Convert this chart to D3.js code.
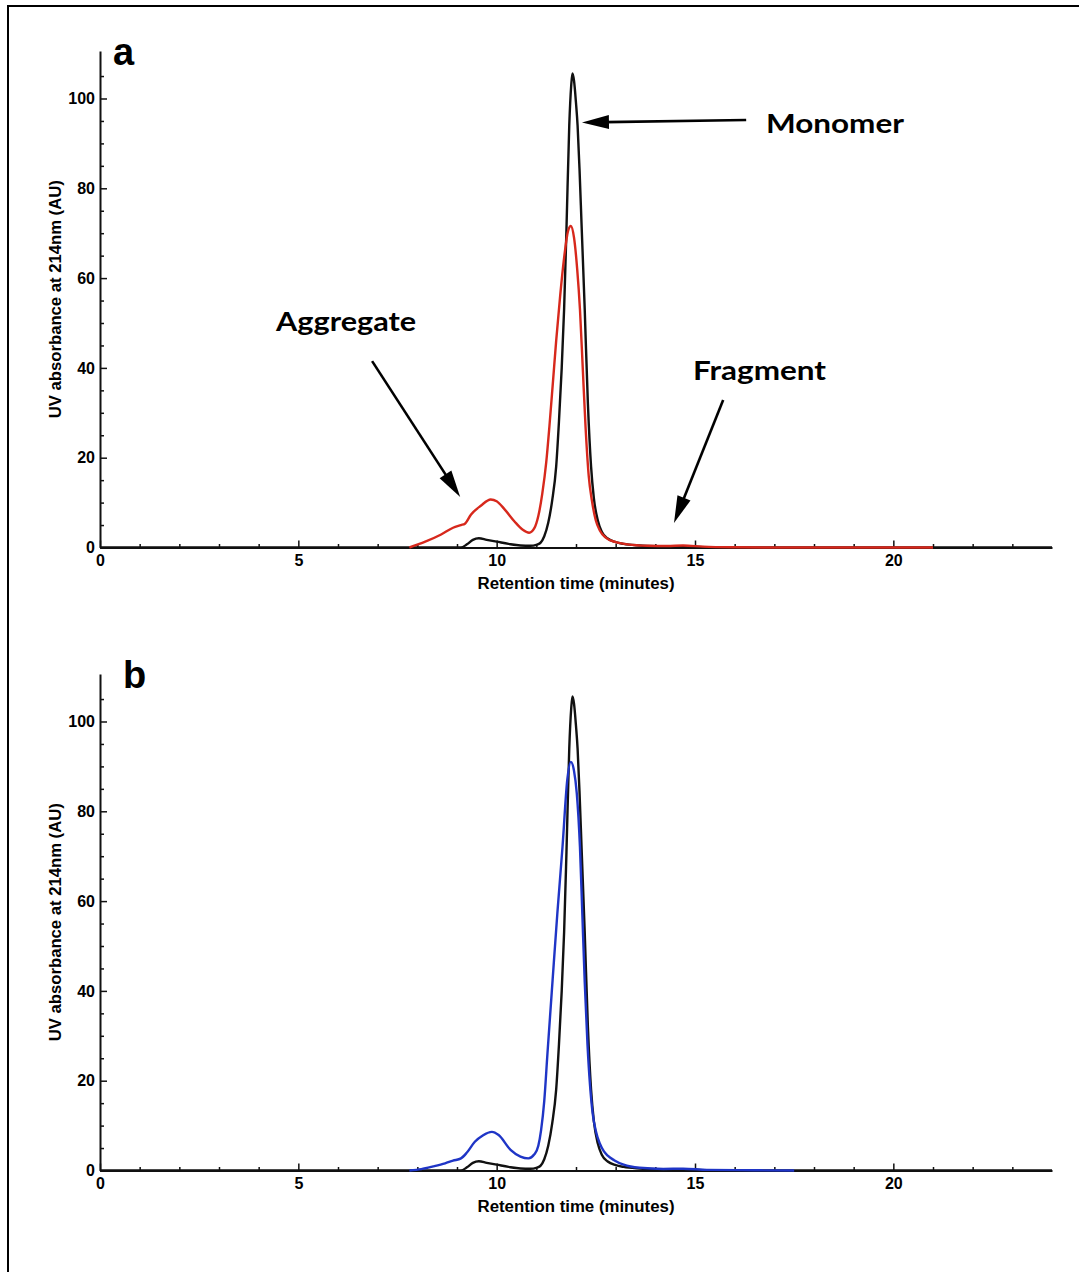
<!DOCTYPE html>
<html>
<head>
<meta charset="utf-8">
<script src="https://cdn.jsdelivr.net/npm/d3@7"></script>
<style>
  body { margin: 0; background: #fff; }
  svg { display: block; }
  text { font-family: 'Liberation Sans', Arial, sans-serif; }
</style>
</head>
<body>
<div id="chart"></div>
<script>
// retention time (minutes) and UV absorbance (AU)

// black trace (reference, both panels)
const refTime = [0, 9.1, 9.25, 9.4, 9.55, 9.75, 10.0, 10.3, 10.6, 10.85, 11.0, 11.1, 11.2, 11.3, 11.4, 11.5, 11.57, 11.64, 11.7, 11.76, 11.83, 11.88, 11.91, 11.95, 12.0, 12.04, 12.09, 12.14, 12.22, 12.3, 12.38, 12.45, 12.55, 12.65, 12.8, 13.0, 13.2, 13.6, 14.2, 15.0, 16.0, 24]
const refAbs = [0, 0, 0.7, 1.7, 2.05, 1.7, 1.3, 0.8, 0.45, 0.4, 0.6, 1.0, 2.5, 5.5, 10.5, 18, 28, 40, 53, 71, 94, 103, 105.6, 104, 99, 94, 84, 72, 53, 32, 18, 11, 6, 3.5, 2, 1.2, 0.8, 0.45, 0.25, 0.12, 0, 0]

// red trace (panel a)
const redTime = [7.8, 8.2, 8.6, 8.9, 9.1, 9.2, 9.35, 9.6, 9.85, 10.0, 10.2, 10.45, 10.65, 10.82, 10.95, 11.05, 11.15, 11.25, 11.33, 11.42, 11.5, 11.6, 11.7, 11.8, 11.87, 11.95, 12.03, 12.1, 12.17, 12.24, 12.32, 12.4, 12.5, 12.6, 12.75, 13.0, 13.3, 13.8, 14.3, 14.7, 15.2, 16.0, 17.0, 21.0]
const redAbs = [0, 1.3, 2.9, 4.4, 5.0, 5.3, 7.3, 9.3, 10.7, 10.3, 8.5, 5.8, 4.0, 3.3, 4.3, 7, 12, 19, 27, 37, 46, 56, 64.5, 70.5, 71.6, 69, 62, 53, 40, 27, 16, 10.5, 6, 3.8, 2.2, 1.2, 0.7, 0.4, 0.35, 0.45, 0.2, 0.05, 0, 0]

// blue trace (panel b)
const blueTime = [7.8, 8.1, 8.4, 8.7, 8.9, 9.1, 9.25, 9.45, 9.65, 9.88, 10.05, 10.35, 10.6, 10.8, 10.95, 11.05, 11.12, 11.2, 11.28, 11.41, 11.53, 11.66, 11.78, 11.87, 11.95, 12.02, 12.1, 12.16, 12.22, 12.29, 12.42, 12.5, 12.6, 12.7, 12.8, 12.96, 13.2, 13.6, 14.2, 14.7, 15.3, 16.5, 17.5]
const blueAbs = [0, 0.3, 0.9, 1.6, 2.2, 2.7, 4.0, 6.4, 7.8, 8.6, 7.9, 4.6, 3.1, 2.7, 3.6, 5.5, 9, 15.5, 26, 42.4, 57.3, 72.1, 87, 91, 89, 84, 72, 57, 42, 28, 12.7, 8.8, 6.0, 4.3, 3.3, 2.3, 1.3, 0.6, 0.35, 0.4, 0.15, 0.05, 0]

const xMajor = [0, 5, 10, 15, 20]
const xMinor = d3.range(1, 24).filter(d => d % 5 !== 0)
const yMajor = [0, 20, 40, 60, 80, 100]
const yMinor = d3.range(5, 110, 5).filter(d => d % 20 !== 0)

const xTitle = 'Retention time (minutes)'
const yTitle = 'UV absorbance at 214nm (AU)'

// annotation anchors in data units [minutes, AU]
const annotations = [
  { label: 'Monomer', text: [16.79, 92.3], from: [16.29, 95.2], to: [12.15, 94.65], width: 138 },
  { label: 'Aggregate', text: [4.44, 48.2], from: [6.86, 41.5], to: [9.08, 11.25], width: 140 },
  { label: 'Fragment', text: [14.95, 37.3], from: [15.71, 32.85], to: [14.47, 5.46], width: 133 },
]

const W = 1079
const H = 1272

const svg = d3.select('#chart').append('svg').attr('width', W).attr('height', H)

svg.append('rect').attr('width', W).attr('height', H).attr('fill', '#fff')

// frame
svg.append('path')
  .attr('d', `M8,${H}V6H${W}`)
  .attr('fill', 'none')
  .attr('stroke', '#000')
  .attr('stroke-width', 2)

function toSeries(t, v) {
  return t.map((d, i) => ({ t: d, v: v[i] }))
}

function arrow(g, from, to) {
  const dx = to[0] - from[0]
  const dy = to[1] - from[1]
  const len = Math.hypot(dx, dy)
  const ux = dx / len
  const uy = dy / len
  const headLen = 27
  const headW = 7
  const bx = to[0] - ux * headLen
  const by = to[1] - uy * headLen
  g.append('line')
    .attr('x1', from[0]).attr('y1', from[1])
    .attr('x2', bx + ux * 3).attr('y2', by + uy * 3)
    .attr('stroke', '#000')
    .attr('stroke-width', 2.6)
  g.append('path')
    .attr('d', `M${to[0]},${to[1]}L${bx - uy * headW},${by + ux * headW}L${bx + uy * headW},${by - ux * headW}Z`)
    .attr('fill', '#000')
}

function drawPanel(offset, letter, letterX, series, notes) {
  const g = svg.append('g').attr('transform', `translate(0, ${offset})`)

  const x = d3.scaleLinear().domain([0, 24]).range([100, 1052])
  const y = d3.scaleLinear().domain([0, 110.6]).range([547.5, 50.9])

  const line = d3.line()
    .x(d => x(d.t))
    .y(d => y(d.v))
    .curve(d3.curveMonotoneX)

  // minor ticks
  g.append('g')
    .attr('transform', `translate(0, ${y(0)})`)
    .call(d3.axisBottom(x).tickValues(xMinor).tickSizeInner(-3.5).tickSizeOuter(0).tickFormat(''))
    .call(a => a.select('.domain').remove())
  g.append('g')
    .attr('transform', `translate(${x(0)}, 0)`)
    .call(d3.axisLeft(y).tickValues(yMinor).tickSizeInner(-4).tickSizeOuter(0).tickFormat(''))
    .call(a => a.select('.domain').remove())

  // major axes
  const xAxis = g.append('g')
    .attr('transform', `translate(0, ${y(0)})`)
    .call(d3.axisBottom(x).tickValues(xMajor).tickSizeInner(-7).tickSizeOuter(0).tickPadding(7))
  const yAxis = g.append('g')
    .attr('transform', `translate(${x(0)}, 0)`)
    .call(d3.axisLeft(y).tickValues(yMajor).tickSizeInner(-7).tickSizeOuter(0).tickPadding(5))

  g.selectAll('.tick line').attr('stroke', '#111').attr('stroke-width', 1.5)
  g.selectAll('.domain').attr('stroke', '#111').attr('stroke-width', 2)
  ;[xAxis, yAxis].forEach(a =>
    a.selectAll('text')
      .attr('fill', '#000')
      .style('font-size', '16px')
      .style('font-weight', 'bold')
      .style('font-family', "'Liberation Sans', Arial, sans-serif")
  )

  // traces
  series.forEach(s => {
    g.append('path')
      .attr('d', line(toSeries(s.t, s.v)))
      .attr('fill', 'none')
      .attr('stroke', s.color)
      .attr('stroke-width', 2.4)
      .attr('stroke-linejoin', 'round')
  })

  // axis titles
  g.append('text')
    .attr('x', (x.range()[0] + x.range()[1]) / 2)
    .attr('y', y(0) + 41)
    .attr('text-anchor', 'middle')
    .attr('textLength', 197)
    .attr('lengthAdjust', 'spacingAndGlyphs')
    .style('font-size', '16px')
    .style('font-weight', 'bold')
    .text(xTitle)

  g.append('text')
    .attr('transform', `translate(61, ${(y.range()[0] + y.range()[1]) / 2}) rotate(-90)`)
    .attr('text-anchor', 'middle')
    .attr('textLength', 238)
    .attr('lengthAdjust', 'spacingAndGlyphs')
    .style('font-size', '16px')
    .style('font-weight', 'bold')
    .text(yTitle)

  // panel letter
  g.append('text')
    .attr('x', letterX)
    .attr('y', 65)
    .style('font-size', '38px')
    .style('font-weight', 'bold')
    .text(letter)

  notes.forEach(n => {
    g.append('text')
      .attr('x', x(n.text[0]))
      .attr('y', y(n.text[1]))
      .attr('textLength', n.width)
      .attr('lengthAdjust', 'spacingAndGlyphs')
      .style('font-family', "Lato, 'Open Sans', sans-serif")
      .style('font-size', '27px')
      .style('font-weight', 'bold')
      .text(n.label)
    arrow(g, [x(n.from[0]), y(n.from[1])], [x(n.to[0]), y(n.to[1])])
  })
}

drawPanel(0, 'a', 113, [
  { t: refTime, v: refAbs, color: '#111' },
  { t: redTime, v: redAbs, color: '#d7281c' },
], annotations)

drawPanel(623, 'b', 123, [
  { t: refTime, v: refAbs, color: '#111' },
  { t: blueTime, v: blueAbs, color: '#1f35c6' },
], [])
</script>
</body>
</html>
